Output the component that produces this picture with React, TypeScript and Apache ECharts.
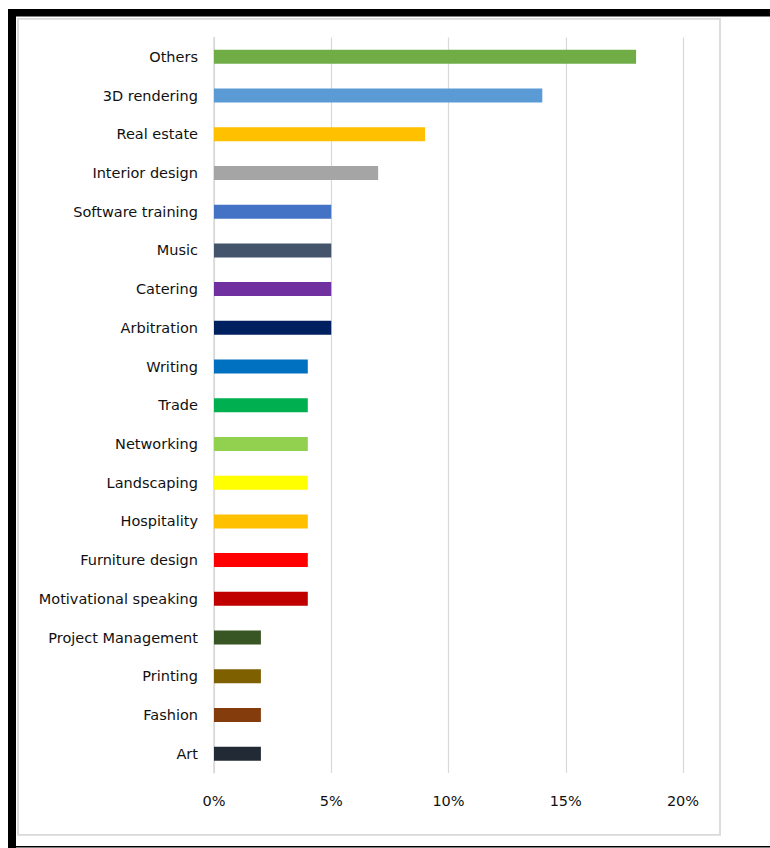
import React, { useEffect, useRef } from "react";
import * as echarts from "echarts";

const categories = [
  "Others",
  "3D rendering",
  "Real estate",
  "Interior design",
  "Software training",
  "Music",
  "Catering",
  "Arbitration",
  "Writing",
  "Trade",
  "Networking",
  "Landscaping",
  "Hospitality",
  "Furniture design",
  "Motivational speaking",
  "Project Management",
  "Printing",
  "Fashion",
  "Art",
];

const shares = [18, 14, 9, 7, 5, 5, 5, 5, 4, 4, 4, 4, 4, 4, 4, 2, 2, 2, 2];

const barColors = [
  "#70AD47",
  "#5B9BD5",
  "#FFC000",
  "#A5A5A5",
  "#4472C4",
  "#44546A",
  "#7030A0",
  "#002060",
  "#0070C0",
  "#00B050",
  "#92D050",
  "#FFFF00",
  "#FFC000",
  "#FF0000",
  "#C00000",
  "#375623",
  "#7F6000",
  "#843C0C",
  "#222A35",
];

const xTicks = [0, 5, 10, 15, 20];

export default function App() {
  const ref = useRef<HTMLDivElement>(null);

  useEffect(() => {
    if (!ref.current) return;
    const chart = echarts.init(ref.current, null, { renderer: "svg" });
    const font = "'DejaVu Sans', sans-serif";
    chart.setOption({
      animation: false,
      backgroundColor: "#ffffff",
      grid: { left: 214, right: 87, top: 37.5, bottom: 75, containLabel: false },
      xAxis: {
        type: "value",
        min: xTicks[0],
        max: xTicks[xTicks.length - 1],
        interval: 5,
        axisLine: { show: false },
        axisTick: { show: false },
        splitLine: { show: true, lineStyle: { color: "#d9d9d9", width: 1.2 } },
        axisLabel: {
          formatter: (v: number) => `${v}%`,
          color: "#111111",
          fontFamily: font,
          fontSize: 14.5,
          margin: 20,
        },
      },
      yAxis: {
        type: "category",
        data: categories,
        inverse: true,
        axisLine: { show: true, lineStyle: { color: "#d9d9d9", width: 1.5 } },
        axisTick: { show: false },
        axisLabel: {
          color: "#111111",
          fontFamily: font,
          fontSize: 14.5,
          margin: 16,
        },
      },
      series: [
        {
          type: "bar",
          barWidth: 14,
          data: shares.map((v, i) => ({ value: v, itemStyle: { color: barColors[i] } })),
        },
      ],
      graphic: [
        { type: "rect", silent: true, shape: { x: 8, y: 9, width: 762, height: 7.5 }, style: { fill: "#000" } },
        { type: "rect", silent: true, shape: { x: 8, y: 9, width: 8, height: 839 }, style: { fill: "#000" } },
        { type: "rect", silent: true, shape: { x: 8, y: 846, width: 762, height: 1.5 }, style: { fill: "#000" } },
        {
          type: "rect",
          silent: true,
          shape: { x: 18, y: 18.8, width: 702, height: 816 },
          style: { fill: "none", stroke: "#d9d9d9", lineWidth: 1.8 },
        },
      ],
    });
    return () => chart.dispose();
  }, []);

  return (
    <div
      ref={ref}
      style={{ position: "fixed", left: 0, top: 0, width: 770, height: 848, background: "#fff" }}
    />
  );
}
